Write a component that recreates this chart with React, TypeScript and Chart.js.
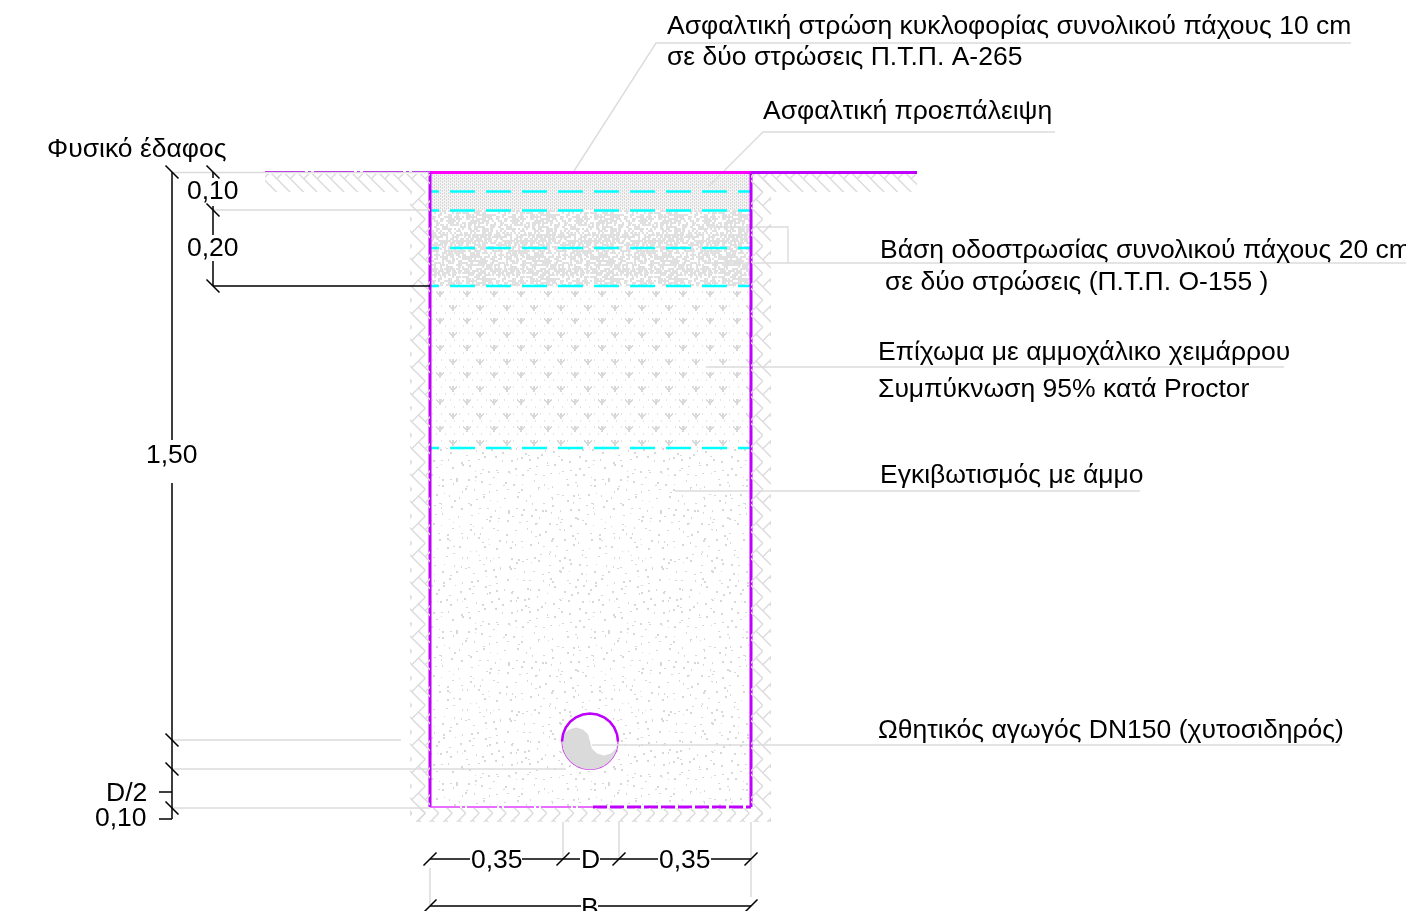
import React, { useEffect, useRef } from "react";
import { Chart, registerables } from "chart.js";
Chart.register(...registerables);

type P = [number, number];

// drawing coordinates
const leaderLines: P[][] = [
  [[574, 171], [656, 43], [1351, 43]],
  [[708, 187], [763, 132], [1055, 132]],
  [[707, 227], [788, 227], [788, 263]],
  [[707, 263], [1406, 263]],
  [[707, 367], [1284, 367]],
  [[675, 491], [1140, 491]],
  [[592, 745], [1340, 745]],
];
const extensionLines: P[][] = [
  [[172, 172.5], [430, 172.5]],
  [[213, 210], [430, 210]],
  [[172, 740], [401, 740]],
  [[172, 769], [566, 769]],
  [[172, 808], [430, 808]],
  [[563, 822], [563, 859]],
  [[619, 822], [619, 859]],
  [[751, 822], [751, 897]],
  [[430, 868], [430, 905]],
];
const dimensionLines: P[][] = [
  [[172, 172], [172, 440]],
  [[172, 483], [172, 819]],
  [[159, 792], [172, 792]],
  [[159, 819], [172, 819]],
  [[213, 172], [213, 178]],
  [[213, 206], [213, 235]],
  [[213, 261], [213, 286]],
  [[213, 286], [430, 286]],
  [[430, 859], [470, 859]],
  [[522, 859], [580, 859]],
  [[600, 859], [658, 859]],
  [[711, 859], [751, 859]],
  [[430, 906], [581, 906]],
  [[598, 906], [751, 906]],
];
const backTicks: P[] = [[172, 172], [213, 172], [213, 210], [213, 286], [172, 740], [172, 769], [172, 808]];
const slashTicks: P[] = [[430, 859], [563, 859], [619, 859], [751, 859], [430, 906], [751, 906]];

const cyanLevels = [191.5, 210.5, 248, 286, 448];
const trenchLeft = 430;
const trenchRight = 751;
const trenchTop = 172.5;
const trenchBottom = 807;

const layerAsphalt = [173, 210];
const layerBase = [210, 286];
const layerFill = [286, 448];
const layerSand = [448, 807];

const hatchZones: number[][] = [
  [265, 430, 174, 192],
  [410, 430, 192, 822],
  [751, 771, 174, 822],
  [751, 917, 174, 192],
  [410, 771, 808, 822],
];

const pipeCentre: P = [590, 741.5];
const pipeGrey: P[] = [
  [562, 741.5], [563.9, 734.5], [569, 729.4], [576, 727.5], [583, 729.4], [588.1, 734.5], [590, 741.5],
  [591.9, 748.5], [597, 753.6], [604, 755.5], [611, 753.6], [616.1, 748.5], [618, 741.5],
  [617, 748.7], [614.2, 755.5], [609.8, 761.3], [604, 765.7], [597.2, 768.5], [590, 769.5],
  [582.8, 768.5], [576, 765.7], [570.2, 761.3], [565.8, 755.5], [563, 748.7], [562, 741.5],
];
const pipeTopArc: P[] = [
  [562, 741.5], [563, 734.3], [565.8, 727.5], [570.2, 721.7], [576, 717.3], [582.8, 714.5], [590, 713.5],
  [597.2, 714.5], [604, 717.3], [609.8, 721.7], [614.2, 727.5], [617, 734.3], [618, 741.5],
];

const labels: [string, number, number][] = [
  ["Ασφαλτική στρώση κυκλοφορίας συνολικού πάχους 10 cm", 667, 34],
  ["σε δύο στρώσεις Π.Τ.Π. Α-265", 667, 65],
  ["Ασφαλτική προεπάλειψη", 763, 119],
  ["Φυσικό έδαφος", 47, 157],
  ["0,10", 187, 199],
  ["0,20", 187, 256],
  ["1,50", 146, 463],
  ["Βάση οδοστρωσίας συνολικού πάχους 20 cm", 880, 258],
  ["σε δύο στρώσεις (Π.Τ.Π. Ο-155 )", 885, 290],
  ["Επίχωμα με αμμοχάλικο χειμάρρου", 878, 360],
  ["Συμπύκνωση 95% κατά Proctor", 878, 397],
  ["Εγκιβωτισμός με άμμο", 880, 483],
  ["Ωθητικός αγωγός DN150 (χυτοσιδηρός)", 878, 738],
  ["D/2", 106, 801],
  ["0,10", 95, 826],
  ["0,35", 471, 868],
  ["D", 581, 868],
  ["0,35", 659, 868],
  ["B", 581, 916],
];

const toPts = (p: P[]) => p.map(([x, y]) => ({ x, y }));
const joinLines = (lines: P[][]) =>
  lines.flatMap((l, i) => (i ? [{ x: NaN, y: NaN }, ...toPts(l)] : toPts(l)));
const tickLines = (c: P[], sx: number): P[][] =>
  c.map(([x, y]) => [[x - 6.5 * sx, y - 6.5], [x + 6.5 * sx, y + 6.5]] as P[]);

function mix(n: number) {
  let h = Math.imul(n ^ 0x5bd1e995, 2654435761);
  h ^= h >>> 13;
  h = Math.imul(h, 1597334677);
  return ((h ^ (h >>> 16)) >>> 0) / 4294967296;
}

function tile(w: number, h: number, paint: (c: CanvasRenderingContext2D) => void) {
  const t = document.createElement("canvas");
  t.width = w;
  t.height = h;
  const c = t.getContext("2d")!;
  paint(c);
  return c.createPattern(t, "repeat")!;
}

function makePatterns() {
  const hatch = tile(27, 27, (c) => {
    const d = 6.75;
    c.strokeStyle = "#dcdcdc";
    c.lineWidth = 1.5;
    for (let i = -8; i <= 8; i++)
      for (let j = -4; j <= 4; j++) {
        const ox = i * 2 * d;
        const oy = j * 4 * d + 10;
        c.beginPath();
        c.moveTo(ox, oy);
        c.lineTo(ox + 3 * d, oy + 3 * d);
        c.moveTo(ox + d, oy + d);
        c.lineTo(ox + 3 * d, oy - d);
        c.stroke();
      }
  });
  const asphalt = tile(4, 3, (c) => {
    c.fillStyle = "#f4f4f4";
    c.fillRect(0, 0, 4, 3);
    c.fillStyle = "#d8d8d8";
    c.fillRect(0, 0, 1, 2);
    c.fillRect(2, 1, 1, 2);
  });
  const base = tile(64, 64, (c) => {
    c.fillStyle = "#e0e0e0";
    for (let y = 0; y < 32; y++)
      for (let x = 0; x < 32; x++)
        if (mix(x * 131 + y * 977) < 0.6) c.fillRect(x * 2, y * 2, 2 + (mix(x + y * 51) < 0.4 ? 1 : 0), 2);
  });
  const fillDots = tile(27, 27, (c) => {
    c.fillStyle = "#e4e4e4";
    for (let y = 0; y < 4; y++)
      for (let x = 0; x < 3; x++) c.fillRect(x * 9 + (y % 2 ? 0 : 4), Math.round(y * 6.75) + 1, 1, 2);
    c.fillStyle = "#d8d8d8";
    const arrow = (ax: number, ay: number) => {
      c.fillRect(ax - 1, ay - 3, 2, 6);
      c.fillRect(ax - 2, ay - 1, 4, 2);
      c.fillRect(ax - 4, ay - 3, 1, 2);
      c.fillRect(ax + 3, ay - 3, 1, 2);
      c.fillRect(ax - 3, ay - 2, 1, 2);
      c.fillRect(ax + 2, ay - 2, 1, 2);
    };
    arrow(21, 11);
    arrow(8, 24);
  });
  const sand = tile(152, 152, (c) => {
    c.fillStyle = "#d8d8d8";
    for (let j = 0; j < 19; j++)
      for (let i = 0; i < 19; i++) {
        const n = i + j * 19;
        const x = i * 8 + mix(n * 7 + 3) * 8;
        const y = j * 8 + mix(n * 13 + 11) * 8;
        const w = mix(n * 17 + 5) < 0.7 ? 2 : 1;
        const h = mix(n * 19 + 9) < 0.6 ? 2 : 1;
        c.fillRect(Math.floor(x), Math.floor(y), w, h);
      }
  });
  return { hatch, asphalt, base, fillDots, sand };
}

export default function App() {
  const ref = useRef<HTMLCanvasElement>(null);
  useEffect(() => {
    const pat = makePatterns();
    const line = (data: any[], color: string, width: number, extra: any = {}) => ({
      type: "scatter",
      data,
      showLine: true,
      borderColor: color,
      borderWidth: width,
      pointRadius: 0,
      spanGaps: false,
      ...extra,
    });
    const zone = (x0: number, x1: number, top: number, bottom: number, pattern: any) => ({
      type: "scatter",
      data: [{ x: x0, y: bottom }, { x: x1, y: bottom }],
      showLine: true,
      borderWidth: 0,
      pointRadius: 0,
      fill: { value: top },
      backgroundColor: pattern,
    });
    const bottomUp: any[] = [
      zone(trenchLeft, trenchRight, layerAsphalt[0], layerAsphalt[1], pat.asphalt),
      zone(trenchLeft, trenchRight, layerBase[0], layerBase[1], pat.base),
      zone(trenchLeft, trenchRight, layerFill[0], layerFill[1], pat.fillDots),
      zone(trenchLeft, trenchRight, layerSand[0], layerSand[1], pat.sand),
      {
        type: "scatter",
        data: toPts([pipeCentre]),
        pointRadius: 28,
        pointBorderWidth: 1.2,
        pointBorderColor: "#cc33ee",
        pointBackgroundColor: "#ffffff",
      },
      line(toPts(pipeGrey), "#dadada", 0, { fill: "shape", backgroundColor: "#dadada" }),
      line(toPts(pipeTopArc), "#bf00ff", 2.5),
      line(joinLines(leaderLines), "#dcdcdc", 1.4),
      line(joinLines(extensionLines), "#dcdcdc", 1.5),
      ...cyanLevels.map((y) =>
        line(toPts([[trenchLeft, y], [trenchRight, y]]), "#00ffff", 2.4, { borderDash: [25, 11], borderDashOffset: 16 })
      ),
      line(toPts([[265, 171.5], [430, 171.5]]), "#c040e8", 1.2, { borderDash: [40, 3, 3, 3] }),
      line(toPts([[trenchLeft, trenchTop], [trenchRight, trenchTop]]), "#ff00ff", 3),
      line(toPts([[trenchRight, trenchTop], [917, trenchTop]]), "#bf00ff", 3),
      line(toPts([[trenchLeft, trenchTop], [trenchLeft, trenchBottom]]), "#bf00ff", 3),
      line(toPts([[trenchRight, trenchTop], [trenchRight, trenchBottom]]), "#bf00ff", 3),
      line(toPts([[trenchLeft, trenchBottom], [593, trenchBottom]]), "#e040ff", 1.5, { borderDash: [30, 2, 3, 2] }),
      line(toPts([[593, trenchBottom], [trenchRight, trenchBottom]]), "#c000ff", 3, { borderDash: [14, 3] }),
      ...hatchZones.map(([a, b, t, u]) => zone(a, b, t, u, pat.hatch)),
      line(joinLines(dimensionLines), "#000000", 1.5),
      line(joinLines(tickLines(backTicks, 1)), "#000000", 1.5),
      line(joinLines(tickLines(slashTicks, -1)), "#000000", 1.5),
    ];
    const textPlugin = {
      id: "drawingText",
      afterDatasetsDraw(chart: any) {
        const { ctx, scales } = chart;
        ctx.save();
        ctx.font = '26.5px "Liberation Sans"';
        ctx.fillStyle = "#000";
        ctx.textBaseline = "alphabetic";
        ctx.textAlign = "left";
        for (const [t, x, y] of labels)
          ctx.fillText(t, scales.x.getPixelForValue(x), scales.y.getPixelForValue(y));
        ctx.restore();
      },
    };
    const chart = new Chart(ref.current!, {
      type: "scatter",
      data: { datasets: bottomUp.reverse() },
      plugins: [textPlugin],
      options: {
        animation: false,
        responsive: false,
        devicePixelRatio: 1,
        layout: { padding: 0, autoPadding: false },
        plugins: { legend: { display: false }, title: { display: false }, tooltip: { enabled: false } },
        scales: {
          x: { type: "linear", min: 0, max: 1406, display: false },
          y: { type: "linear", min: 0, max: 911, reverse: true, display: false },
        },
      },
    } as any);
    return () => chart.destroy();
  }, []);
  return (
    <div style={{ position: "fixed", left: 0, top: 0, width: 1406, height: 911, background: "#fff" }}>
      <canvas ref={ref} width={1406} height={911} style={{ display: "block" }} />
    </div>
  );
}
